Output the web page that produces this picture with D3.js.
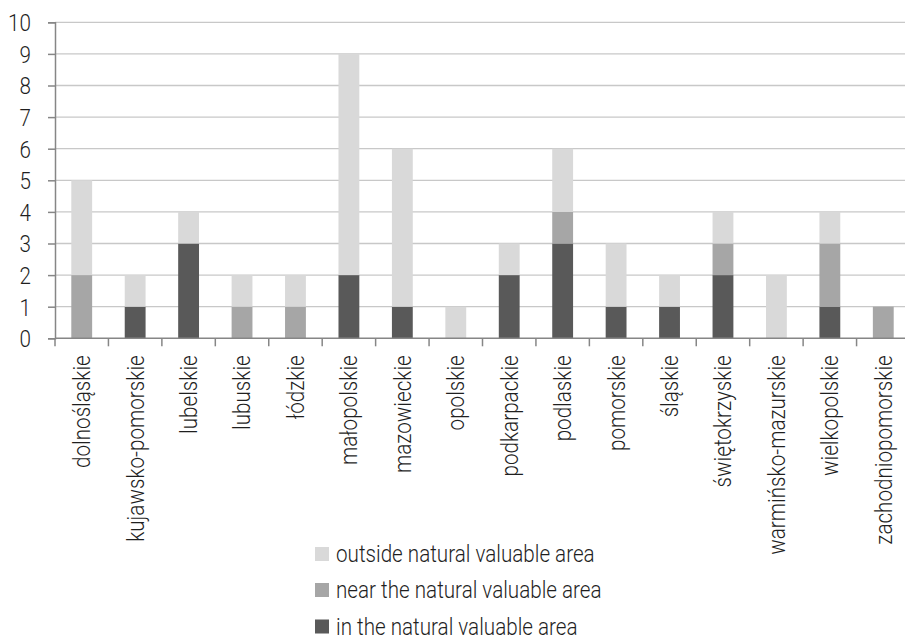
<!DOCTYPE html>
<html><head><meta charset="utf-8">
<script src="https://cdn.jsdelivr.net/npm/d3@7"></script>
<style>
body{margin:0;background:#fff;}
text{font-family:Roboto,"Noto Sans",sans-serif;font-weight:300;fill:#1f1f1f;}
</style></head>
<body><svg id="c" width="905" height="638"></svg>
<script>
const categories=["dolnośląskie","kujawsko-pomorskie","lubelskie","lubuskie","łódzkie","małopolskie","mazowieckie","opolskie","podkarpackie","podlaskie","pomorskie","śląskie","świętokrzyskie","warmińsko-mazurskie","wielkopolskie","zachodniopomorskie"];
const inArea=[0,1,3,0,0,2,1,0,2,3,1,1,2,0,1,0];
const nearArea=[2,0,0,1,1,0,0,0,0,1,0,0,1,0,2,1];
const outsideArea=[3,1,1,1,1,7,5,1,1,2,2,1,1,2,1,0];
const seriesNames=["in the natural valuable area","near the natural valuable area","outside natural valuable area"];
const colors=["#595959","#a6a6a6","#d9d9d9"];
const yTicks=[0,1,2,3,4,5,6,7,8,9,10];
const SX=0.86, FS=24;

(function(){
const svg=d3.select("#c");
const mL=55,mR=910,mT=22.3,mB=338.3;
const x=d3.scaleBand().domain(categories).range([mL,mR]).paddingInner(0).paddingOuter(0);
const y=d3.scaleLinear().domain([0,10]).range([mB,mT]);

svg.append("g").selectAll("line").data(yTicks.filter(d=>d>0)).join("line")
 .attr("x1",mL).attr("x2",mR).attr("y1",d=>y(d)).attr("y2",d=>y(d))
 .attr("stroke","#c8c8c8").attr("stroke-width",1.3);

const table=categories.map((c,i)=>({cat:c,in:inArea[i],near:nearArea[i],out:outsideArea[i]}));
const stack=d3.stack().keys(["in","near","out"])(table);
const bw=x.bandwidth()*0.39;
svg.append("g").selectAll("g").data(stack).join("g").attr("fill",(d,i)=>colors[i])
 .selectAll("rect").data(d=>d).join("rect")
 .attr("x",d=>x(d.data.cat)+x.bandwidth()/2-bw/2).attr("width",bw)
 .attr("y",d=>y(d[1])).attr("height",d=>y(d[0])-y(d[1]));

const ya=svg.append("g").attr("transform",`translate(${mL},0)`)
 .call(d3.axisLeft(y).tickValues(yTicks).tickSize(7).tickFormat(d3.format("d")));
ya.select(".domain").attr("stroke","#868686").attr("stroke-width",1.5);
ya.selectAll(".tick line").attr("stroke","#868686").attr("stroke-width",1.5);
ya.selectAll(".tick text").attr("font-size",FS).attr("font-family","Roboto").attr("font-weight",300).attr("fill","#1f1f1f")
 .attr("x",null).attr("dy","0.35em").attr("transform",`translate(-24,0) scale(${SX},1)`);

const xa=svg.append("g").attr("transform",`translate(0,${mB})`);
xa.append("line").attr("x1",mL).attr("x2",mR).attr("stroke","#868686").attr("stroke-width",1.5);
const bounds=categories.map(c=>x(c)).concat([mR]);
xa.selectAll(".t").data(bounds).join("line").attr("class","t")
 .attr("x1",d=>d).attr("x2",d=>d).attr("y1",0).attr("y2",8).attr("stroke","#868686").attr("stroke-width",1.5);
xa.selectAll("text").data(categories).join("text")
 .attr("transform",d=>`translate(${x(d)+x.bandwidth()/2},17) rotate(-90) scale(${SX},1)`)
 .attr("text-anchor","end").attr("dy","0.35em").attr("font-size",FS).text(d=>d);

const leg=svg.append("g");
const order=[2,1,0];
const rowsY=[554,590,626.5];
order.forEach((si,k)=>{
 leg.append("rect").attr("x",315).attr("y",rowsY[k]-7).attr("width",14).attr("height",14).attr("fill",colors[si]);
 leg.append("text").attr("transform",`translate(336,${rowsY[k]}) scale(${SX},1)`).attr("dy","0.35em").attr("font-size",FS).text(seriesNames[si]);
});
})();
</script></body></html>
